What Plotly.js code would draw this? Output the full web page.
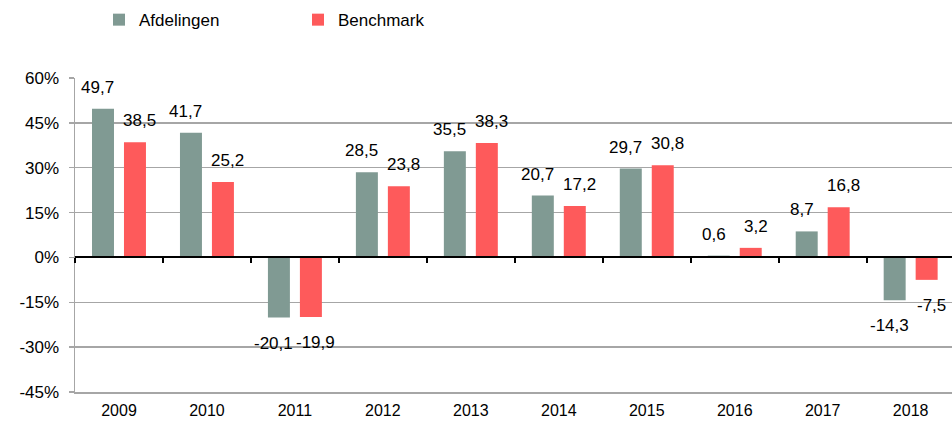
<!DOCTYPE html>
<html>
<head>
<meta charset="utf-8">
<script src="https://cdn.plot.ly/plotly-3.0.1.min.js"></script>
<style>
  html, body { margin: 0; padding: 0; background: #fff; }
  #chart { width: 952px; height: 421px; }
</style>
</head>
<body>
<div id="chart"></div>
<script>
const years = ['2009', '2010', '2011', '2012', '2013', '2014', '2015', '2016', '2017', '2018'];
const afdelingen = [49.7, 41.7, -20.1, 28.5, 35.5, 20.7, 29.7, 0.6, 8.7, -14.3];
const benchmark = [38.5, 25.2, -19.9, 23.8, 38.3, 17.2, 30.8, 3.2, 16.8, -7.5];
const seriesNames = ['Afdelingen', 'Benchmark'];
const yTicks = [-45, -30, -15, 0, 15, 30, 45, 60];

const colA = '#809a93';
const colB = '#fe5a5b';
const font = 'Liberation Sans, Arial, sans-serif';

const fmt = v => v.toFixed(1).replace('.', ',');

const traces = [
  { type: 'bar', name: seriesNames[0], x: years, y: afdelingen, marker: { color: colA }, hoverinfo: 'skip' },
  { type: 'bar', name: seriesNames[1], x: years, y: benchmark, marker: { color: colB }, hoverinfo: 'skip' },
  { type: 'scatter', mode: 'markers', x: years, y: afdelingen, xaxis: 'x2', yaxis: 'y',
    marker: { opacity: 0 }, showlegend: false, hoverinfo: 'skip' }
];

const annotations = [];
function addLabels(vals, shift) {
  vals.forEach((v, i) => {
    annotations.push({
      x: i, y: v, xref: 'x', yref: 'y', text: fmt(v), showarrow: false,
      xanchor: 'center',
      xshift: shift, yanchor: v >= 0 ? 'bottom' : 'top', yshift: v >= 0 ? 10 : -14,
      font: { family: font, size: 17, color: '#000000' }
    });
  });
}
addLabels(afdelingen, -21);
addLabels(benchmark, 21);

const zeroFrac = (0 - yTicks[0]) / (yTicks[yTicks.length - 1] - yTicks[0]);

const layout = {
  width: 952, height: 421,
  margin: { l: 75, r: 0, t: 78, b: 29 },
  paper_bgcolor: '#fff', plot_bgcolor: '#fff',
  font: { family: font, size: 17, color: '#000' },
  barmode: 'group', bargap: 0.273, bargroupgap: 0.3125,
  showlegend: true,
  legend: {
    orientation: 'h', xref: 'container', yref: 'container',
    x: 0.104, y: 0.995, xanchor: 'left', yanchor: 'top',
    entrywidth: 154, entrywidthmode: 'pixels',
    font: { family: font, size: 17, color: '#000' },
    itemclick: false
  },
  xaxis: {
    type: 'category', range: [-0.5, 9.47],
    showline: true, linecolor: '#a6a6a6', linewidth: 1.5,
    ticks: '', showgrid: false, zeroline: false,
    tickfont: { family: font, size: 16, color: '#000' },
    ticklabelstandoff: 3
  },
  xaxis2: {
    type: 'category', overlaying: 'x', anchor: 'free', position: zeroFrac,
    range: [-0.5, 9.47], side: 'bottom',
    showline: true, linecolor: '#000', linewidth: 2,
    ticks: 'outside', tickson: 'boundaries', ticklen: 5, tickwidth: 2, tickcolor: '#000',
    showticklabels: false, showgrid: false, zeroline: false
  },
  yaxis: {
    range: [yTicks[0], yTicks[yTicks.length - 1]],
    tickvals: yTicks, ticktext: yTicks.map(v => v + '%'),
    showline: true, linecolor: '#a6a6a6', linewidth: 1.5,
    ticks: 'outside', ticklen: 5, tickwidth: 1.5, tickcolor: '#a6a6a6',
    showgrid: true, gridcolor: '#a6a6a6', gridwidth: 1.5,
    zeroline: true, zerolinecolor: '#000', zerolinewidth: 2,
    tickfont: { family: font, size: 17, color: '#000' },
    ticklabelstandoff: 6
  },
  annotations: annotations
};

Plotly.newPlot('chart', traces, layout, { displayModeBar: false, staticPlot: true });
</script>
</body>
</html>
